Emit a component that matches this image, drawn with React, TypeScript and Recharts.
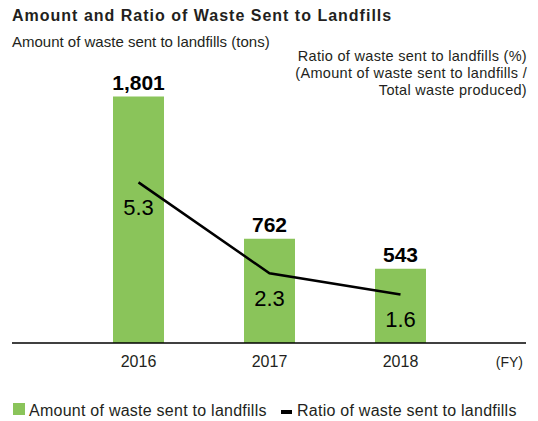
import { ComposedChart, Bar, Line, XAxis, YAxis, LabelList } from "recharts";

const years = ["2016", "2017", "2018"];
const amounts = [1801, 762, 543];
const ratios = [5.3, 2.3, 1.6];

const data = years.map((year, i) => ({ year, amount: amounts[i], ratio: ratios[i] }));

const GREEN = "#8AC45A";
const TEXT = "#231f20";
const FONT = '"Liberation Sans", Arial, Helvetica, sans-serif';

export default function App() {
    return (
        <div style={{ position: "absolute", left: 0, top: 0, width: 538, height: 421, fontFamily: FONT, color: TEXT }}>
            <div style={{ position: "absolute", left: 12, top: 6, fontSize: 16, fontWeight: "bold", letterSpacing: 1, lineHeight: "20px", whiteSpace: "nowrap" }}>
                Amount and Ratio of Waste Sent to Landfills
            </div>
            <div style={{ position: "absolute", left: 12, top: 33, fontSize: 15, lineHeight: "18px", whiteSpace: "nowrap" }}>
                Amount of waste sent to landfills (tons)
            </div>
            <div style={{ position: "absolute", right: 11, top: 48, fontSize: 14.5, letterSpacing: 0.3, lineHeight: "17px", textAlign: "right", whiteSpace: "nowrap" }}>
                Ratio of waste sent to landfills (%)
                <br />
                (Amount of waste sent to landfills /
                <br />
                Total waste produced)
            </div>

            <ComposedChart width={538} height={421} data={data} margin={{ top: 93, right: 12, bottom: 38, left: 12 }}>
                <XAxis
                    dataKey="year"
                    height={40}
                    padding={{ left: 61, right: 60 }}
                    axisLine={{ stroke: "#000", strokeWidth: 1.3 }}
                    tickLine={false}
                    tickSize={0}
                    tickMargin={13}
                    tick={{ fontSize: 16, fill: TEXT }}
                />
                <YAxis yAxisId="amount" hide domain={[0, 1827]} />
                <YAxis yAxisId="ratio" hide orientation="right" domain={[0, 8.25]} />
                <Bar yAxisId="amount" dataKey="amount" fill={GREEN} barSize={51} isAnimationActive={false}>
                    <LabelList
                        dataKey="amount"
                        position="top"
                        offset={7}
                        formatter={(v: number) => v.toLocaleString("en-US")}
                        style={{ fontSize: 21, fontWeight: "bold", fill: "#000" }}
                    />
                </Bar>
                <Line
                    yAxisId="ratio"
                    dataKey="ratio"
                    type="linear"
                    stroke="#000"
                    strokeWidth={2.5}
                    dot={false}
                    activeDot={false}
                    isAnimationActive={false}
                >
                    <LabelList dataKey="ratio" position="bottom" offset={17} style={{ fontSize: 22, fill: "#000" }} />
                </Line>
            </ComposedChart>

            <div style={{ position: "absolute", right: 15, top: 353, fontSize: 14, lineHeight: "18px" }}>(FY)</div>

            <div style={{ position: "absolute", left: 13, top: 403, width: 12, height: 12, background: GREEN }} />
            <div style={{ position: "absolute", left: 29, top: 401, fontSize: 16, letterSpacing: 0.25, lineHeight: "19px", whiteSpace: "nowrap" }}>
                Amount of waste sent to landfills
            </div>
            <div style={{ position: "absolute", left: 281, top: 410, width: 11, height: 3.5, background: "#000" }} />
            <div style={{ position: "absolute", left: 297, top: 401, fontSize: 16, letterSpacing: 0.25, lineHeight: "19px", whiteSpace: "nowrap" }}>
                Ratio of waste sent to landfills
            </div>
        </div>
    );
}
